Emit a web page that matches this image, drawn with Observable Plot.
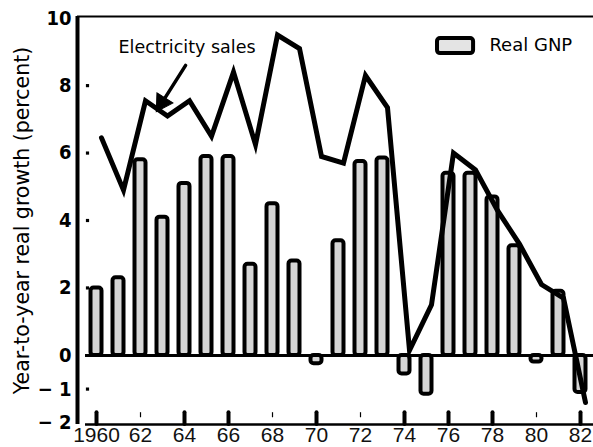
<!DOCTYPE html>
<html>
<head>
<meta charset="utf-8">
<script src="https://cdn.jsdelivr.net/npm/d3@7"></script>
<script src="https://cdn.jsdelivr.net/npm/@observablehq/plot@0.6"></script>
<style>
  html, body { margin: 0; padding: 0; background: #fff; }
  svg { display: block; }
</style>
</head>
<body>
<div id="chart"></div>
<script>
// ---- data ----
const years = [1960, 1961, 1962, 1963, 1964, 1965, 1966, 1967, 1968, 1969, 1970, 1971,
               1972, 1973, 1974, 1975, 1976, 1977, 1978, 1979, 1980, 1981, 1982];
const realGNP = [2.0, 2.3, 5.8, 4.1, 5.1, 5.9, 5.9, 2.7, 4.5, 2.8, -0.25, 3.4,
                 5.75, 5.85, -0.55, -1.15, 5.4, 5.4, 4.7, 3.25, -0.2, 1.9, -1.1];
const electricitySales = [6.45, 4.9, 7.55, 7.1, 7.55, 6.5, 8.4, 6.25, 9.5, 9.1, 5.9, 5.7,
                          8.3, 7.35, 0.15, 1.5, 6.0, 5.5, 4.3, 3.3, 2.1, 1.7, -1.4];
const xTickYears = [1960, 1962, 1964, 1966, 1968, 1970, 1972, 1974, 1976, 1978, 1980, 1982];
const heavyTickYears = [1960, 1964, 1966, 1970, 1974, 1976, 1978, 1982];
const lightTickYears = [1962, 1968, 1972, 1980];
const yTickValues = [10, 8, 6, 4, 2, 0, -1, -2];
const yDotTicks = [8, 6, 4, 2, -1];
const yTitle = "Year-to-year real growth (percent)";
const seriesLine = "Electricity sales";
const seriesBars = "Real GNP";

// annotation / legend anchors (data units)
const xDomain = [1959.136, 1982.591];
const yDomain = [-2.05, 10.05];
const labelPos = {x: 1961.0, y: 9.13};
const arrowPos = {x1: 1964.05, y1: 8.6, x2: 1963.1, y2: 7.62};
const arrowHead = {x: 1962.98, y: 7.5};
const legendBox = {x1: 1975.5, x2: 1977.14, y1: 8.95, y2: 9.4};
const legendText = {x: 1977.86, y: 9.19};

const table = years.map((year, i) => ({year, gnp: realGNP[i], elec: electricitySales[i]}));

const fmtX = d => d === 1960 ? "1960" : String(d).slice(2);
const fmtY = d => d < 0 ? "\u2212 " + Math.abs(d) : String(d);

const chart = Plot.plot({
  width: 593,
  height: 447,
  marginLeft: 77,
  marginRight: 0,
  marginTop: 16,
  marginBottom: 23,
  x: {type: "linear", domain: xDomain},
  y: {domain: yDomain},
  style: {fontFamily: "DejaVu Sans", background: "#fff", overflow: "visible"},
  marks: [
    // bars
    Plot.rectY(table, {
      x1: d => d.year - 0.25, x2: d => d.year + 0.25,
      y1: 0, y2: "gnp",
      fill: "#d6d6d6", stroke: "#000", strokeWidth: 4, rx: 3
    }),
    // zero baseline
    Plot.ruleY([0], {x1: 1959.5, x2: xDomain[1], stroke: "#000", strokeWidth: 3}),
    // frame: top, left, bottom
    Plot.ruleY([yDomain[1]], {x1: xDomain[0], x2: xDomain[1], stroke: "#000", strokeWidth: 2}),
    Plot.ruleX([xDomain[0]], {y1: yDomain[0], y2: yDomain[1], stroke: "#000", strokeWidth: 4}),
    Plot.ruleY([yDomain[0]], {x1: 1959.5, x2: xDomain[1], stroke: "#000", strokeWidth: 2.5}),
    // x tick marks
    Plot.ruleX(heavyTickYears, {x: d => d, y1: yDomain[0], y2: -1.7, stroke: "#000", strokeWidth: 4, strokeLinecap: "round"}),
    Plot.ruleX(lightTickYears, {x: d => d, y1: -1.85, y2: -1.7, stroke: "#000", strokeWidth: 1.2}),
    // y dots
    Plot.dot(yDotTicks, {x: () => xDomain[0], y: d => d, dx: 10, r: 1.8, fill: "#000", stroke: "none", symbol: "square"}),
    // line
    Plot.line(table, {x: "year", y: "elec", stroke: "#000", strokeWidth: 5, strokeLinejoin: "miter", strokeMiterlimit: 6, dx: 5}),
    // axes
    Plot.axisX({ticks: xTickYears, tickSize: 0, tickPadding: 3, tickFormat: fmtX,
                fontSize: 21, fontFamily: "Liberation Sans", fill: "#111", label: null}),
    Plot.axisY({ticks: yTickValues, tickSize: 0, tickPadding: 6, tickFormat: fmtY,
                fontSize: 20, fontFamily: "Liberation Sans Narrow, DejaVu Sans Condensed", fontWeight: "bold", label: null}),
    Plot.text([yTitle], {frameAnchor: "left", rotate: -90, dx: -55, dy: 0, textAnchor: "middle",
                         fontSize: 20.5, fontFamily: "DejaVu Sans", fill: "#000", text: d => d}),
    // annotation
    Plot.text([seriesLine], {x: labelPos.x, y: labelPos.y, text: d => d, textAnchor: "start",
                             fontSize: 17.5, fontFamily: "DejaVu Sans", fill: "#000"}),
    Plot.arrow([arrowPos], {x1: "x1", y1: "y1", x2: "x2", y2: "y2", stroke: "#000",
                            strokeWidth: 3.5, headLength: 0}),
    Plot.dot([arrowHead], {x: "x", y: "y", symbol: "triangle", r: 7, rotate: 212,
                           fill: "#000", stroke: "#000", strokeWidth: 1}),
    // legend
    Plot.rect([legendBox], {x1: "x1", x2: "x2", y1: "y1", y2: "y2", fill: "#e4e4e4",
                            stroke: "#000", strokeWidth: 4, rx: 3}),
    Plot.text([seriesBars], {x: legendText.x, y: legendText.y, text: d => d, textAnchor: "start",
                             fontSize: 18, fontFamily: "DejaVu Sans", fill: "#000"})
  ]
});
document.getElementById("chart").appendChild(chart);
</script>
</body>
</html>
